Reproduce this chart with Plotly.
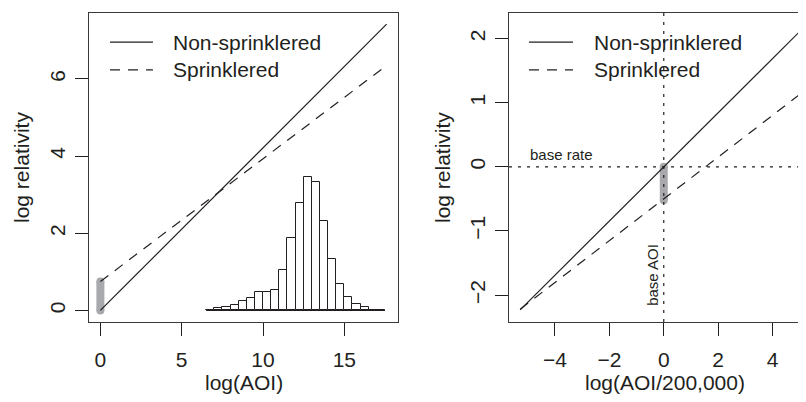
import plotly.graph_objects as go

# ---------------- data ----------------
# Left panel: log(AOI) scale
aoi_ends = [0.0, 17.6]
nonspr_left = [0.0, 7.42]
spr_left = [0.75, 6.35]
gap_left_x = [0.0, 0.0]
gap_left_y = [0.0, 0.75]

# scaled histogram of log(AOI), bin width 0.5
hist_centers = [6.75, 7.25, 7.75, 8.25, 8.75, 9.25, 9.75, 10.25, 10.75, 11.25, 11.75,
                12.25, 12.75, 13.25, 13.75, 14.25, 14.75, 15.25, 15.75, 16.25, 16.75, 17.25]
hist_heights = [0.0, 0.06, 0.095, 0.14, 0.25, 0.33, 0.485, 0.47, 0.54, 1.06, 1.87,
                2.79, 3.46, 3.33, 2.31, 1.33, 0.68, 0.35, 0.16, 0.095, 0.0, 0.0]
bin_width = 0.5

# Right panel: log(AOI/200,000) scale
aoi_c_ends = [-5.28, 5.4]
nonspr_right = [-2.23, 2.28]
spr_right = [-2.22, 1.26]
gap_right_x = [0.0, 0.0]
gap_right_y = [0.0, -0.52]
base_rate = 0.0
base_aoi = 0.0

legend_names = ["Non-sprinklered", "Sprinklered"]
left_xticks = [0, 5, 10, 15]
left_yticks = [0, 2, 4, 6]
right_xticks = [-4, -2, 0, 2, 4]
right_yticks = [-2, -1, 0, 1, 2]

# ---------------- styling ----------------
INK = "#231f20"
GREY = "#a7a9ac"
FONT = "Liberation Sans, Arial, sans-serif"
FS = 21
DASH = "10px,8px"
DOT = "3px,6px"

fig = go.Figure()

# ---- left panel ----
fig.add_trace(go.Bar(x=hist_centers, y=hist_heights, width=bin_width,
                     marker=dict(color="white", line=dict(color=INK, width=1)),
                     xaxis="x", yaxis="y", showlegend=False, hoverinfo="skip"))
hist_lo = hist_centers[0] - bin_width / 2
hist_hi = hist_centers[-1] + bin_width / 2
fig.add_trace(go.Scatter(x=[hist_lo, hist_hi], y=[0, 0], mode="lines",
                         line=dict(color=INK, width=1.3), xaxis="x", yaxis="y",
                         showlegend=False, hoverinfo="skip"))
fig.add_trace(go.Scatter(x=gap_left_x, y=gap_left_y, mode="lines+markers",
                         line=dict(color=GREY, width=8), marker=dict(color=GREY, size=8),
                         xaxis="x", yaxis="y", showlegend=False, hoverinfo="skip"))
fig.add_trace(go.Scatter(x=aoi_ends, y=nonspr_left, mode="lines",
                         line=dict(color=INK, width=1.2), xaxis="x", yaxis="y",
                         showlegend=False))
fig.add_trace(go.Scatter(x=aoi_ends, y=spr_left, mode="lines",
                         line=dict(color=INK, width=1.2, dash=DASH), xaxis="x", yaxis="y",
                         showlegend=False))

# ---- right panel ----
fig.add_trace(go.Scatter(x=gap_right_x, y=gap_right_y, mode="lines+markers",
                         line=dict(color=GREY, width=8), marker=dict(color=GREY, size=8),
                         xaxis="x2", yaxis="y2", showlegend=False, hoverinfo="skip"))
fig.add_trace(go.Scatter(x=aoi_c_ends, y=nonspr_right, mode="lines",
                         line=dict(color=INK, width=1.2), xaxis="x2", yaxis="y2",
                         showlegend=False))
fig.add_trace(go.Scatter(x=aoi_c_ends, y=spr_right, mode="lines",
                         line=dict(color=INK, width=1.2, dash=DASH), xaxis="x2", yaxis="y2",
                         showlegend=False))

shapes = [
    dict(type="line", xref="x2 domain", yref="y2", x0=0, x1=1, y0=base_rate, y1=base_rate,
         line=dict(color=INK, width=1.2, dash=DOT)),
    dict(type="line", xref="x2", yref="y2 domain", x0=base_aoi, x1=base_aoi, y0=0, y1=1,
         line=dict(color=INK, width=1.2, dash=DOT)),
]

annotations = []

# manual legends (R style)
def add_legend(xr, yr, x0, x1, xt):
    rows = [0.906, 0.816]
    for name, yy, dash in zip(legend_names, rows, [None, DASH]):
        ln = dict(color=INK, width=1.2)
        if dash:
            ln["dash"] = dash
        shapes.append(dict(type="line", xref=xr, yref=yr, x0=x0, x1=x1, y0=yy, y1=yy, line=ln))
        annotations.append(dict(text=name, xref=xr, yref=yr, x=xt, y=yy, xanchor="left",
                                yanchor="middle", showarrow=False,
                                font=dict(family=FONT, size=FS, color=INK)))

add_legend("x domain", "y domain", 0.068, 0.207, 0.266)
add_legend("x2 domain", "y2 domain", 0.0673, 0.2155, 0.280)

# reference line labels
annotations.append(dict(text="base rate", xref="x2", yref="y2", x=-5.0, y=base_rate,
                        xanchor="left", yanchor="bottom", yshift=2, showarrow=False,
                        font=dict(family=FONT, size=15, color=INK)))
annotations.append(dict(text="base AOI", xref="x2", yref="y2", x=base_aoi, y=-1.68,
                        xanchor="right", yanchor="middle", xshift=-1, textangle=-90,
                        showarrow=False, font=dict(family=FONT, size=15, color=INK)))

# axis titles
annotations.append(dict(text="log(AOI)", xref="x domain", yref="y domain", x=0.5, y=0,
                        xanchor="center", yanchor="top", yshift=-47, showarrow=False,
                        font=dict(family=FONT, size=FS, color=INK)))
annotations.append(dict(text="log(AOI/200,000)", xref="x2 domain", yref="y2 domain",
                        x=0.524, y=0, xanchor="center", yanchor="top", yshift=-47,
                        showarrow=False, font=dict(family=FONT, size=FS, color=INK)))
annotations.append(dict(text="log relativity", xref="x domain", yref="y domain", x=0,
                        y=0.5, xanchor="center", yanchor="middle", xshift=-67.5,
                        textangle=-90, showarrow=False,
                        font=dict(family=FONT, size=FS, color=INK)))
annotations.append(dict(text="log relativity", xref="x2 domain", yref="y2 domain", x=0,
                        y=0.5, xanchor="center", yanchor="middle", xshift=-66.5,
                        textangle=-90, showarrow=False,
                        font=dict(family=FONT, size=FS, color=INK)))

axis_common = dict(showgrid=False, zeroline=False, showline=True, linecolor="#3a3a3a",
                   linewidth=1, ticks="outside", ticklen=13, tickwidth=1.3, tickcolor=INK,
                   tickfont=dict(family=FONT, size=FS, color=INK), fixedrange=True,
                   automargin=False)

# the page body adds an 8px offset, so the figure is 8px smaller than the window
fig.update_layout(
    width=798, height=394,
    margin=dict(l=81, r=0, t=5, b=80),
    paper_bgcolor="white", plot_bgcolor="white",
    showlegend=False, bargap=0,
    xaxis=dict(domain=[0, 0.431], range=[-0.7, 18.3], tickvals=left_xticks, mirror=True,
               ticklabelstandoff=6, anchor="y", **axis_common),
    yaxis=dict(domain=[0, 1], range=[-0.30, 7.71], tickvals=left_yticks, mirror=True,
               tickangle=-90, ticklabelstandoff=2, anchor="x", **axis_common),
    xaxis2=dict(domain=[0.5858, 1], range=[-5.69, 5.23], tickvals=right_xticks, mirror=True,
                ticklabelstandoff=6, anchor="y2", **axis_common),
    yaxis2=dict(domain=[0, 1], range=[-2.42, 2.40], tickvals=right_yticks, mirror=False,
                tickangle=-90, ticklabelstandoff=2, anchor="x2", **axis_common),
    shapes=shapes,
    annotations=annotations,
)

fig.write_html("out.html")
